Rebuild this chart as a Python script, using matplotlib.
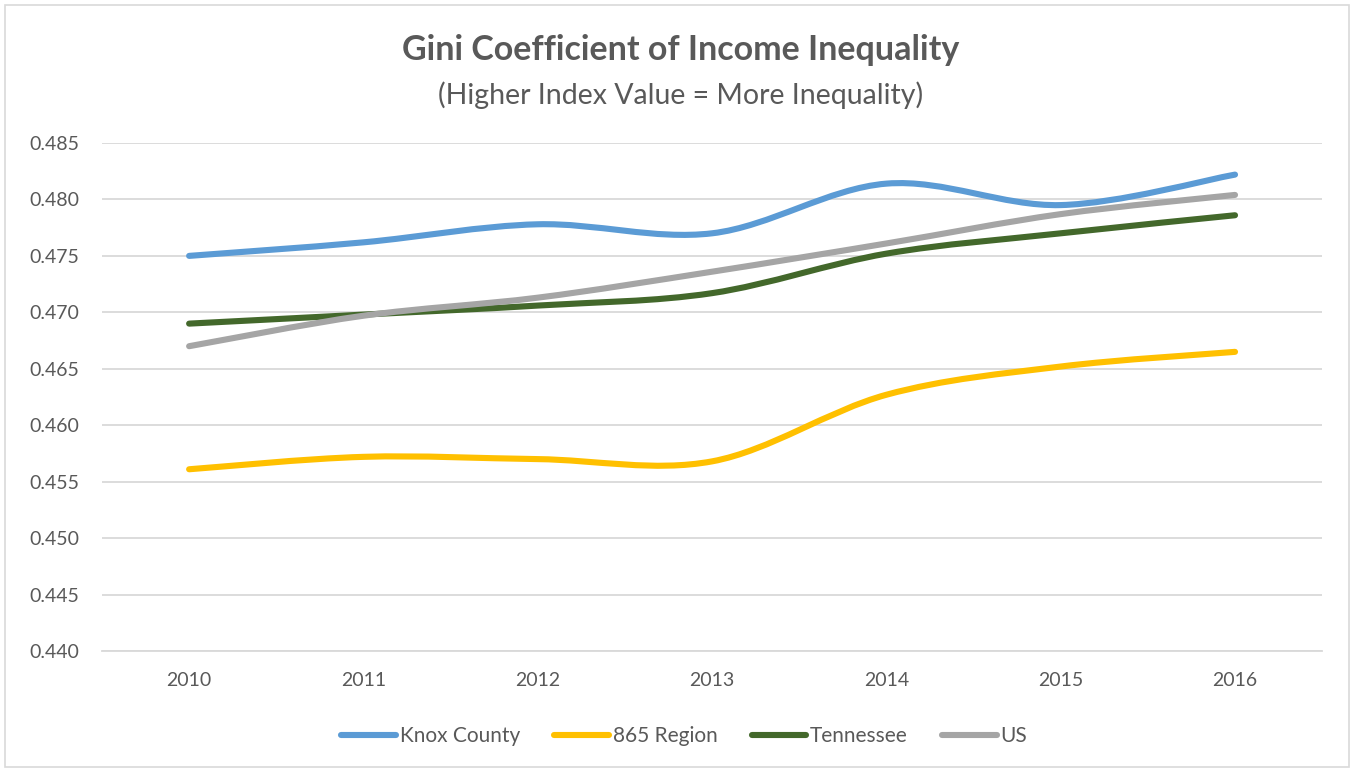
import numpy as np
import matplotlib.pyplot as plt
from matplotlib.path import Path
from matplotlib.patches import PathPatch, Rectangle
from matplotlib.lines import Line2D

years = ['2010', '2011', '2012', '2013', '2014', '2015', '2016']
knox = [0.4750, 0.4762, 0.4778, 0.4770, 0.4814, 0.4795, 0.4822]
region_865 = [0.4561, 0.4572, 0.4570, 0.4568, 0.4627, 0.4652, 0.4665]
tennessee = [0.4690, 0.4698, 0.4706, 0.4717, 0.4752, 0.4770, 0.4786]
us = [0.4670, 0.4697, 0.4713, 0.4736, 0.4761, 0.4787, 0.4804]

series = [('Knox County', knox, '#5B9BD5'),
          ('865 Region', region_865, '#FFC000'),
          ('Tennessee', tennessee, '#43682B'),
          ('US', us, '#A5A5A5')]

plt.rcParams['font.family'] = ['Lato', 'DejaVu Sans']
text_col = '#595959'
lw = 4.4


def smooth_path(x, y):
    # bezier segments, like a spreadsheet "smoothed line"
    pts = np.column_stack([x, y])
    ext = np.vstack([pts[0], pts, pts[-1]])
    verts = [pts[0]]
    codes = [Path.MOVETO]
    for i in range(len(pts) - 1):
        p0, p1, p2, p3 = ext[i], ext[i + 1], ext[i + 2], ext[i + 3]
        verts += [p1 + (p2 - p0) / 6, p2 - (p3 - p1) / 6, p2]
        codes += [Path.CURVE4] * 3
    return Path(verts, codes)


fig = plt.figure(figsize=(13.54, 7.7), dpi=100)
fig.patches.append(Rectangle((0.004, 0.004), 0.992, 0.990, transform=fig.transFigure,
                             fill=False, edgecolor='#D9D9D9', linewidth=1.2))

ax = fig.add_axes([0.0753, 0.1545, 0.9012, 0.6598])
x = np.arange(len(years))
for name, vals, col in series:
    ax.add_patch(PathPatch(smooth_path(x, vals), fill=False, edgecolor=col,
                           linewidth=lw, capstyle='round', joinstyle='round', zorder=3))

ax.set_xlim(-0.5, len(years) - 0.5)
ax.set_ylim(0.440, 0.485)
ax.set_yticks(np.arange(0.440, 0.4851, 0.005))
ax.set_yticklabels(['{:.3f}'.format(v) for v in np.arange(0.440, 0.4851, 0.005)])
ax.set_xticks(x)
ax.set_xticklabels(years)
ax.grid(axis='y', color='#D9D9D9', linewidth=1.3)
ax.set_axisbelow(True)
for s in ['top', 'right', 'left']:
    ax.spines[s].set_visible(False)
ax.spines['bottom'].set_color('#D9D9D9')
ax.spines['bottom'].set_linewidth(1.3)
ax.tick_params(axis='both', length=0, labelsize=14, labelcolor=text_col)
ax.tick_params(axis='x', pad=15)
ax.tick_params(axis='y', pad=16)

fig.text(0.5025, 0.935, 'Gini Coefficient of Income Inequality', ha='center', va='center',
         fontsize=24.5, fontweight='bold', color=text_col)
fig.text(0.5025, 0.877, '(Higher Index Value = More Inequality)', ha='center', va='center',
         fontsize=20.5, color=text_col)

handles = [Line2D([], [], color=c, linewidth=lw, solid_capstyle='round') for _, _, c in series]
fig.legend(handles, [n for n, _, _ in series], loc='center', bbox_to_anchor=(0.5055, 0.044),
           ncol=4, frameon=False, fontsize=15, labelcolor=text_col,
           handlelength=2.6, handletextpad=0.2, columnspacing=1.65)

fig.savefig('out.png', dpi=100)
